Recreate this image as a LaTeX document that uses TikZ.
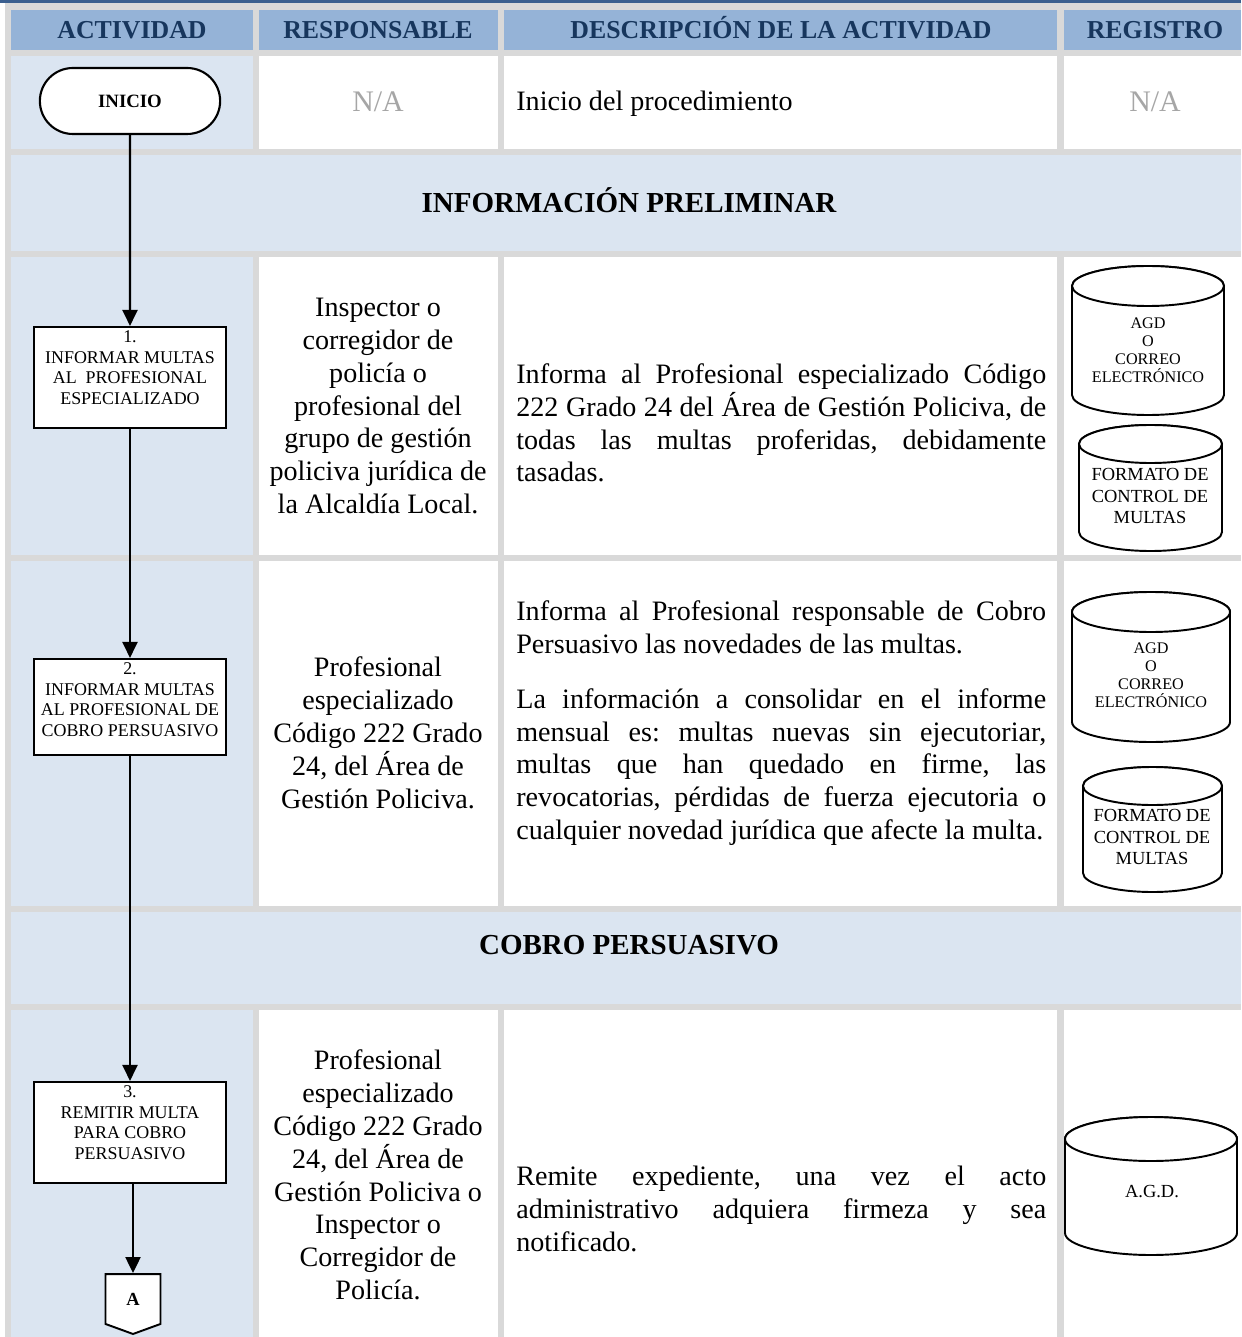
\documentclass[tikz,border=0pt]{standalone}
\usepackage{fontspec}
\setmainfont{Liberation Serif}
\usetikzlibrary{arrows.meta,positioning,shapes.misc,shapes.symbols}
\definecolor{GridGray}{HTML}{D9D9D9}
\definecolor{TopBar}{HTML}{3A5F8F}
\definecolor{HeadFill}{HTML}{95B3D7}
\definecolor{HeadInk}{HTML}{17365D}
\definecolor{PaleBlue}{HTML}{DBE5F1}
\definecolor{NaGray}{HTML}{A6A6A6}
% cilindro de registro: izquierda, arriba, derecha, abajo, radio y
\newcommand{\regcyl}[5]{%
  \filldraw[cylline] (#1,#2+#5) -- (#1,#4-#5)
    arc[start angle=180,end angle=0,x radius={(#3-#1)/2},y radius=#5]
    -- (#3,#2+#5)
    arc[start angle=0,end angle=-180,x radius={(#3-#1)/2},y radius=#5] -- cycle;
  \draw[cylline] ({(#1+#3)/2},#2+#5) ellipse[x radius={(#3-#1)/2},y radius=#5];}
\hbadness=10000
\frenchspacing
\begin{document}
\begin{tikzpicture}[x=0.02cm,y=-0.02cm,>={Triangle[length=0.32cm,width=0.3cm]},
  hdr/.style={anchor=base,text=HeadInk,font=\fontsize{14.7}{17}\selectfont\bfseries},
  sect/.style={anchor=base,font=\fontsize{16.5}{19}\selectfont\bfseries},
  na/.style={text=NaGray,font=\fontsize{17}{20}\selectfont},
  resp/.style={align=center,inner sep=0pt,font=\fontsize{16}{18.7}\selectfont},
  desc/.style={anchor=west,text width=10.6cm,align=justify,inner sep=0pt,font=\fontsize{16}{18.7}\selectfont},
  terminal/.style={rounded rectangle,draw,fill=white,line width=1.2pt,minimum width=3.84cm,minimum height=1.32cm,font=\fontsize{10.7}{12}\selectfont\bfseries},
  actbox/.style={draw,fill=white,line width=1.2pt,minimum width=3.84cm},
  acttext/.style={align=center,inner sep=0pt,font=\fontsize{10.2}{11.7}\selectfont},
  offpage/.style={shape=signal,signal to=south,signal pointer angle=140,draw,fill=white,line width=1.1pt,minimum width=1.1cm,minimum height=1.06cm,inner sep=1pt,font=\fontsize{10.5}{12}\selectfont\bfseries},
  flow/.style={->,line width=1.2pt},
  cylline/.style={draw=black,fill=white,line width=1.1pt},
  regsmall/.style={align=center,inner sep=0pt,font=\fontsize{9.2}{10.2}\selectfont},
  regbig/.style={align=center,inner sep=0pt,font=\fontsize{10.5}{12.2}\selectfont}]
\useasboundingbox (0,0) rectangle (1241,1337);
% fondo y barra superior
\fill[GridGray] (5,3) rectangle (1241,1337);
\fill[TopBar] (0,0) rectangle (1241,3);
% encabezado
\fill[HeadFill] (11,10) rectangle (253,50);
\fill[HeadFill] (259,10) rectangle (498,50);
\fill[HeadFill] (504,10) rectangle (1057,50);
\fill[HeadFill] (1064,10) rectangle (1241,50);
\node[hdr] (hact) at (132,38.5) {ACTIVIDAD};
\node[hdr] (hresp) at (378,38.5) {RESPONSABLE};
\node[hdr] (hdesc) at (781,38.5) {DESCRIPCIÓN DE LA ACTIVIDAD};
\node[hdr] (hreg) at (1155,38.5) {REGISTRO};
% fila inicio
\fill[PaleBlue] (11,56) rectangle (253,149);
\fill[white] (259,56) rectangle (498,149);
\fill[white] (504,56) rectangle (1057,149);
\fill[white] (1064,56) rectangle (1241,149);
\node[na] (resp0) at (378,102) {N/A};
\node[desc] (desc0) at (516,104) {Inicio del procedimiento};
\node[na] (reg0) at (1155,102) {N/A};
% informacion preliminar
\fill[PaleBlue] (11,155) rectangle (1241,251);
\node[sect] (sec1) at (629,212.5) {INFORMACIÓN PRELIMINAR};
% fila 1
\fill[PaleBlue] (11,257) rectangle (253,555);
\fill[white] (259,257) rectangle (498,555);
\fill[white] (504,257) rectangle (1057,555);
\fill[white] (1064,257) rectangle (1241,555);
\node[resp] (resp1) at (378,406) {Inspector o\\corregidor de\\policía o\\profesional del\\grupo de gestión\\policiva jurídica de\\la Alcaldía Local.};
\node[desc] (desc1) at (516,423) {Informa al Profesional especializado Código\linebreak 222 Grado 24 del Área de Gestión Policiva, de\linebreak todas las multas proferidas, debidamente\linebreak tasadas.};
\regcyl{1072}{266}{1224}{415}{20}
\node[regsmall] (reg1a) at (1148,350) {AGD\\O\\CORREO\\ELECTRÓNICO};
\regcyl{1079}{425}{1222}{551}{19}
\node[regbig] (reg1b) at (1150,496) {FORMATO DE\\CONTROL DE\\MULTAS};
% fila 2
\fill[PaleBlue] (11,561) rectangle (253,906);
\fill[white] (259,561) rectangle (498,906);
\fill[white] (504,561) rectangle (1057,906);
\fill[white] (1064,561) rectangle (1241,906);
\node[resp] (resp2) at (378,733) {Profesional\\especializado\\Código 222 Grado\\24, del Área de\\Gestión Policiva.};
\node[desc] (desc2a) at (516,627) {Informa al Profesional responsable de Cobro\linebreak Persuasivo las novedades de las multas.};
\node[desc] (desc2b) at (516,767) {La información a consolidar en el informe\linebreak mensual es: multas nuevas sin ejecutoriar,\linebreak multas que han quedado en firme, las\linebreak revocatorias, pérdidas de fuerza ejecutoria o\linebreak cualquier novedad jurídica que afecte la multa.};
\regcyl{1072}{592}{1230}{742}{20}
\node[regsmall] (reg2a) at (1151,675) {AGD\\O\\CORREO\\ELECTRÓNICO};
\regcyl{1083}{767}{1222}{892}{19}
\node[regbig] (reg2b) at (1152,837) {FORMATO DE\\CONTROL DE\\MULTAS};
% cobro persuasivo
\fill[PaleBlue] (11,912) rectangle (1241,1004);
\node[sect] (sec2) at (629,954.5) {COBRO PERSUASIVO};
% fila 3
\fill[PaleBlue] (11,1010) rectangle (253,1337);
\fill[white] (259,1010) rectangle (498,1337);
\fill[white] (504,1010) rectangle (1057,1337);
\fill[white] (1064,1010) rectangle (1241,1337);
\node[resp] (resp3) at (378,1175) {Profesional\\especializado\\Código 222 Grado\\24, del Área de\\Gestión Policiva o\\Inspector o\\Corregidor de\\Policía.};
\node[desc] (desc3) at (516,1209) {Remite expediente, una vez el acto\linebreak administrativo adquiera firmeza y sea\linebreak notificado.};
\regcyl{1065}{1117}{1237}{1255}{22}
\node[regbig] (reg3) at (1152,1192) {A.G.D.};
% flujo de actividades
\node[terminal] (inicio) at (130,101) {INICIO};
\node[actbox,minimum height=2.02cm] (act1) at (130,377.5) {};
\node[acttext,below=0.09cm of act1.north] (act1t) {1.\\INFORMAR MULTAS\\AL\ \ PROFESIONAL\\ESPECIALIZADO};
\node[actbox,minimum height=1.92cm] (act2) at (130,707) {};
\node[acttext,below=0.09cm of act2.north] (act2t) {2.\\INFORMAR MULTAS\\AL PROFESIONAL DE\\COBRO PERSUASIVO};
\node[actbox,minimum height=2.02cm] (act3) at (130,1132.5) {};
\node[acttext,below=0.09cm of act3.north] (act3t) {3.\\REMITIR MULTA\\PARA COBRO\\PERSUASIVO};
\node[offpage] (conA) at (133,1299) {A};
\draw[flow] (inicio) -- (act1);
\draw[flow] (act1) -- (act2);
\draw[flow] (act2) -- (act3);
\draw[flow] (act3.south -| conA.north) -- (conA.north);
\end{tikzpicture}
\end{document}
